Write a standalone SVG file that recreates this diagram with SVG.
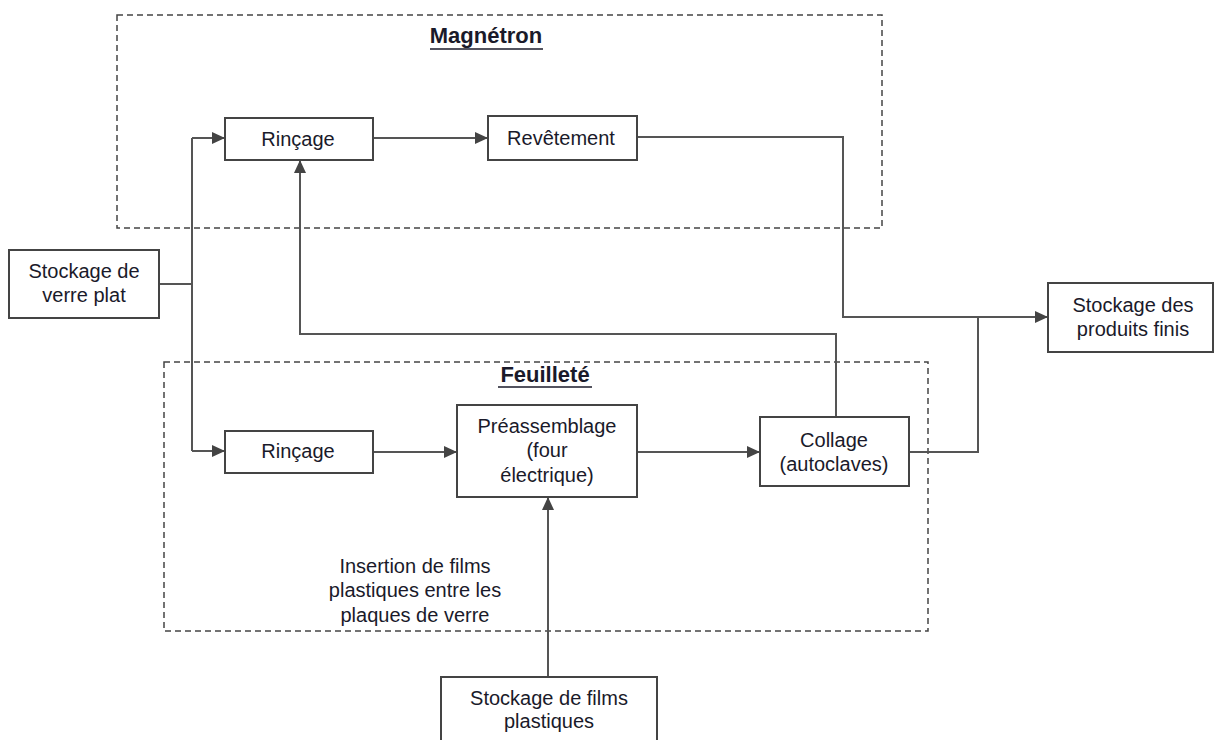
<svg xmlns="http://www.w3.org/2000/svg" width="1215" height="740" viewBox="0 0 1215 740">
<defs>
<marker id="arr" markerUnits="userSpaceOnUse" markerWidth="13" markerHeight="12" refX="13" refY="6" orient="auto">
<path d="M0,0 L13,6 L0,12 z" fill="#444"/>
</marker>
<style>
text{font-family:"Liberation Sans",Arial,sans-serif;font-size:20px;fill:#1a1a2a;text-anchor:middle}
.title{font-weight:bold;font-size:22px}
.box{fill:#fff;stroke:#444;stroke-width:2}
.grp{fill:none;stroke:#444;stroke-width:1.5;stroke-dasharray:6,4}
.ul{stroke:#1a1a2a;stroke-width:1.5}
.c{fill:none;stroke:#555;stroke-width:2}
</style>
</defs>
<g id="group-magnetron">
<rect class="grp" x="117" y="15" width="765" height="213"/>
<text class="title" x="486" y="43">Magnétron</text>
<line class="ul" x1="430" y1="49" x2="543" y2="49"/>
</g>
<g id="group-feuillete">
<rect class="grp" x="164" y="362" width="764" height="269"/>
<text class="title" x="545" y="382">Feuilleté</text>
<line class="ul" x1="498" y1="387" x2="592" y2="387"/>
<text x="415" y="573">Insertion de films</text>
<text x="415" y="597">plastiques entre les</text>
<text x="415" y="622">plaques de verre</text>
</g>
<g id="connectors">
<path class="c" d="M159,284 H192" stroke-width="3"/>
<path class="c" d="M192,138 V451" />
<path class="c" d="M192,138 H225" marker-end="url(#arr)"/>
<path class="c" d="M192,451 H225" marker-end="url(#arr)"/>
<path class="c" d="M373,138 H488" marker-end="url(#arr)"/>
<path class="c" d="M637,137 H843 V317 H1048" marker-end="url(#arr)"/>
<path class="c" d="M836,417 V334 H300 V160" marker-end="url(#arr)"/>
<path class="c" d="M373,452 H457" marker-end="url(#arr)"/>
<path class="c" d="M637,452 H760" marker-end="url(#arr)"/>
<path class="c" d="M909,452 H978 V317"/>
<path class="c" d="M548,677 V497" marker-end="url(#arr)"/>
</g>
<g id="node-stockage-verre">
<rect class="box" x="9" y="250" width="150" height="68"/>
<text x="84" y="278">Stockage de</text>
<text x="84" y="302">verre plat</text>
</g>
<g id="node-rincage-1">
<rect class="box" x="225" y="118" width="148" height="42"/>
<text x="298" y="146">Rinçage</text>
</g>
<g id="node-revetement">
<rect class="box" x="488" y="116" width="149" height="44"/>
<text x="561" y="145">Revêtement</text>
</g>
<g id="node-rincage-2">
<rect class="box" x="225" y="431" width="148" height="42"/>
<text x="298" y="458">Rinçage</text>
</g>
<g id="node-preassemblage">
<rect class="box" x="457" y="405" width="180" height="92"/>
<text x="547" y="433">Préassemblage</text>
<text x="547" y="457">(four</text>
<text x="547" y="482">électrique)</text>
</g>
<g id="node-collage">
<rect class="box" x="760" y="417" width="149" height="69"/>
<text x="834" y="447">Collage</text>
<text x="834" y="471">(autoclaves)</text>
</g>
<g id="node-stockage-produits">
<rect class="box" x="1048" y="283" width="165" height="69"/>
<text x="1133" y="312">Stockage des</text>
<text x="1133" y="336">produits finis</text>
</g>
<g id="node-stockage-films">
<rect class="box" x="441" y="677" width="216" height="70"/>
<text x="549" y="705">Stockage de films</text>
<text x="549" y="728">plastiques</text>
</g>
</svg>
